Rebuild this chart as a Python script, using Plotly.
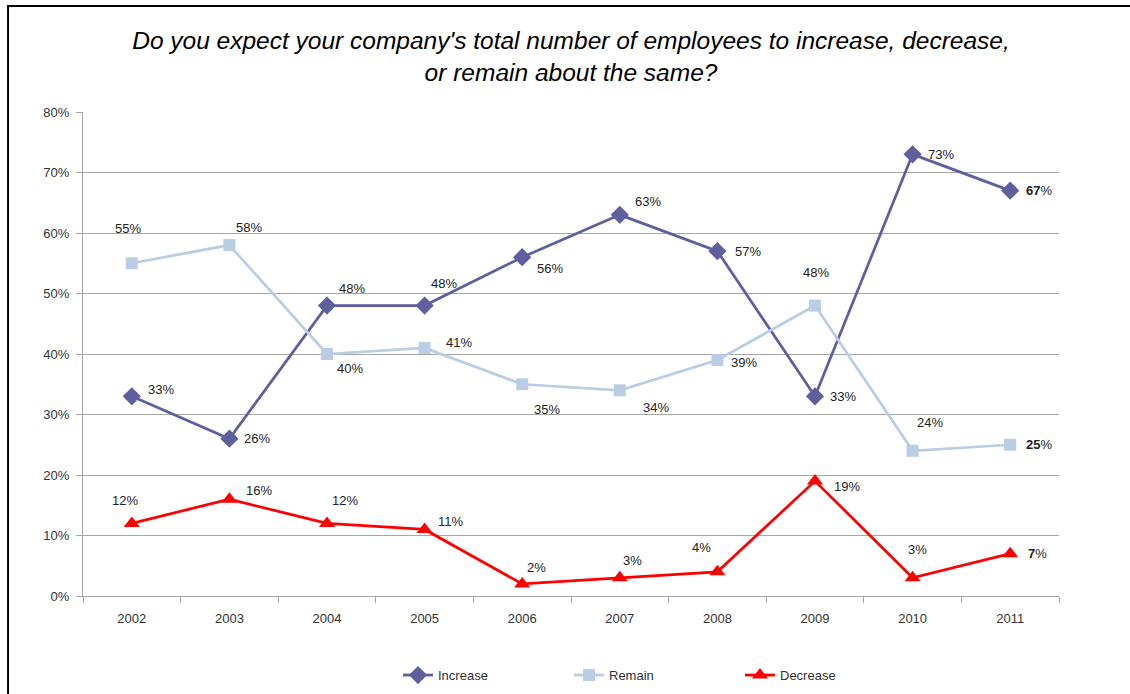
import plotly.graph_objects as go

years = ["2002", "2003", "2004", "2005", "2006", "2007", "2008", "2009", "2010", "2011"]
increase = [33, 26, 48, 48, 56, 63, 57, 33, 73, 67]
remain = [55, 58, 40, 41, 35, 34, 39, 48, 24, 25]
decrease = [12, 16, 12, 11, 2, 3, 4, 19, 3, 7]

y_ticks = [0, 10, 20, 30, 40, 50, 60, 70, 80]
y_tick_labels = [f"{v}%" for v in y_ticks]

title_text = ("<i>Do you expect your company's total number of employees to increase, decrease,"
              "<br>or remain about the same?</i>")

# label offsets (px) per point, styling only
inc_off = [(29, -7), (28, 0), (25, -17), (19, -22), (28, 11), (28, -13), (31, 0), (28, 0), (28, 0), (29, 0)]
rem_off = [(-4, -35), (20, -18), (23, 14), (34, -5), (25, 25), (36, 17), (27, 2), (1, -33), (17, -28), (29, 0)]
dec_off = [(-7, -23), (30, -9), (18, -23), (26, -8), (14, -16), (13, -17), (-16, -24), (32, 5), (5, -28), (27, 0)]

C_INC = "#5F5F9E"
C_REM = "#B9CDE5"
C_DEC = "#FF0000"
FONT = "Liberation Sans, Arial, sans-serif"

fig = go.Figure()
fig.add_trace(go.Scatter(x=years, y=increase, name="Increase", mode="lines+markers",
                         line=dict(color=C_INC, width=2.75),
                         marker=dict(symbol="diamond", size=14, color=C_INC)))
fig.add_trace(go.Scatter(x=years, y=remain, name="Remain", mode="lines+markers",
                         line=dict(color=C_REM, width=2.75),
                         marker=dict(symbol="square", size=12, color=C_REM)))
fig.add_trace(go.Scatter(x=years, y=decrease, name="Decrease", mode="lines+markers",
                         line=dict(color=C_DEC, width=2.75),
                         marker=dict(symbol="triangle-up", size=14, color=C_DEC)))

annotations = []
for vals, offs in ((increase, inc_off), (remain, rem_off), (decrease, dec_off)):
    n = len(vals)
    for i, v in enumerate(vals):
        txt = f"{v}%"
        if i == n - 1:
            txt = f"<b>{v}</b>%"
        annotations.append(dict(x=i, y=v, xref="x", yref="y", text=txt, showarrow=False,
                                xshift=offs[i][0], yshift=-offs[i][1],
                                font=dict(family=FONT, size=13, color="#222222")))

fig.update_layout(
    width=1130, height=694,
    paper_bgcolor="white", plot_bgcolor="white",
    margin=dict(l=83, r=71, t=112, b=98, autoexpand=False),
    title=dict(text=title_text, x=0.5, xref="paper", xanchor="center", y=0.9287, yanchor="top",
               font=dict(family=FONT, size=24.5, color="#000000")),
    font=dict(family=FONT, size=13, color="#333333"),
    showlegend=True,
    legend=dict(orientation="h", x=(398 - 83) / 976, xanchor="left", y=-0.1324, yanchor="top",
                font=dict(family=FONT, size=13, color="#333333"),
                entrywidth=126, itemwidth=30, traceorder="normal"),
    annotations=annotations,
    shapes=[dict(type="rect", xref="paper", yref="paper",
                 x0=-0.0768, x1=1.2, y0=-0.4, y1=1.219,
                 line=dict(color="black", width=2), fillcolor="rgba(0,0,0,0)", layer="above")],
)
fig.update_xaxes(type="category", range=[-0.5, 9.5], showgrid=False, showline=True,
                 linecolor="#A6A6A6", linewidth=1, ticks="outside", tickson="boundaries",
                 ticklen=6, tickcolor="#A6A6A6", tickfont=dict(size=13, color="#333333"),
                 ticklabelstandoff=10, zeroline=False)
fig.update_yaxes(range=[0, 80], tickvals=y_ticks, ticktext=y_tick_labels, showgrid=True,
                 gridcolor="#A6A6A6", gridwidth=1, showline=True, linecolor="#A6A6A6",
                 ticks="outside", ticklen=6, tickcolor="#A6A6A6", zeroline=False,
                 ticklabelstandoff=4, tickfont=dict(size=13, color="#333333"))

fig.write_html("out.html", config={"displayModeBar": False},
               post_script="document.body.style.margin='0';document.body.style.overflow='hidden';")
